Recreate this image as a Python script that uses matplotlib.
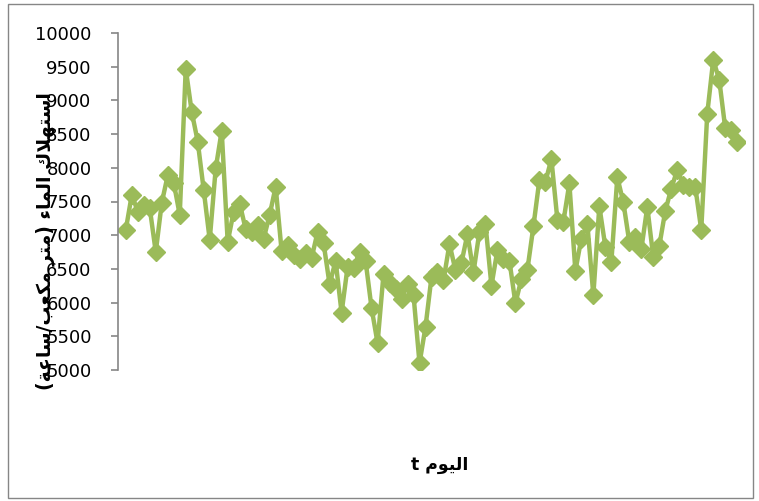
import numpy as np
import matplotlib
matplotlib.use('Agg')
import matplotlib.pyplot as plt
from matplotlib.patches import Rectangle

# hourly water consumption per day
consumption = [
    7080, 7600, 7350, 7450, 7400, 6750, 7480, 7890, 7780, 7300,
    9470, 8830, 8390, 7670, 6930, 7990, 8550, 6900, 7350, 7470,
    7090, 7050, 7150, 6950, 7300, 7720, 6760, 6850, 6700, 6640,
    6730, 6660, 7050, 6880, 6270, 6620, 5850, 6530, 6520, 6750,
    6620, 5920, 5400, 6430, 6290, 6200, 6050, 6280, 6110, 5100,
    5640, 6380, 6460, 6330, 6870, 6480, 6590, 7020, 6450, 7050,
    7170, 6250, 6780, 6650, 6620, 5990, 6350, 6490, 7130, 7820,
    7790, 8130, 7230, 7200, 7770, 6470, 6950, 7170, 6110, 7430,
    6830, 6600, 7860, 7490, 6900, 6980, 6790, 7420, 6670, 6840,
    7360, 7690, 7970, 7750, 7720, 7720, 7080, 8800, 9600, 9310,
    8590, 8560, 8390,
]
days = np.arange(len(consumption))
y_ticks = list(range(5000, 10001, 500))

x_title = 'اليوم t'
y_title = 'استهلاك الماء (متر مكعب/ساعة)'

# contextual forms: isolated, final, initial, medial
FORMS = {
    'ا': ('\ufe8d', '\ufe8e', None, None),
    'ب': ('\ufe8f', '\ufe90', '\ufe91', '\ufe92'),
    'ة': ('\ufe93', '\ufe94', None, None),
    'ت': ('\ufe95', '\ufe96', '\ufe97', '\ufe98'),
    'ر': ('\ufead', '\ufeae', None, None),
    'س': ('\ufeb1', '\ufeb2', '\ufeb3', '\ufeb4'),
    'ع': ('\ufec9', '\ufeca', '\ufecb', '\ufecc'),
    'ك': ('\ufed9', '\ufeda', '\ufedb', '\ufedc'),
    'ل': ('\ufedd', '\ufede', '\ufedf', '\ufee0'),
    'م': ('\ufee1', '\ufee2', '\ufee3', '\ufee4'),
    'ه': ('\ufee9', '\ufeea', '\ufeeb', '\ufeec'),
    'و': ('\ufeed', '\ufeee', None, None),
    'ي': ('\ufef1', '\ufef2', '\ufef3', '\ufef4'),
    'ء': ('\ufe80', None, None, None),
}
MIRROR = {'(': ')', ')': '('}


def joins_next(c):
    return c in FORMS and FORMS[c][2] is not None


def joins_prev(c):
    return c == 'LA' or (c in FORMS and FORMS[c][1] is not None)


def rtl(text):
    # shape the letters, then lay them out right to left
    chars = []
    i = 0
    while i < len(text):
        if text[i] == 'ل' and text[i + 1:i + 2] == 'ا':
            chars.append('LA')
            i += 2
        else:
            chars.append(text[i])
            i += 1
    out = []
    for k, c in enumerate(chars):
        prev = chars[k - 1] if k > 0 else ''
        nxt = chars[k + 1] if k + 1 < len(chars) else ''
        a = joins_next(prev) and joins_prev(c)
        b = c != 'LA' and joins_next(c) and joins_prev(nxt)
        if c == 'LA':
            out.append('\ufefc' if a else '\ufefb')
        elif c in FORMS:
            iso, fin, ini, med = FORMS[c]
            out.append(med if a and b else fin if a else ini if b else iso)
        else:
            out.append(MIRROR.get(c, c))
    return ''.join(reversed(out))


green = '#9bbb59'
grey = '#868686'

fig = plt.figure(figsize=(7.59, 5.01), dpi=100)
ax = fig.add_axes([118 / 759, 1 - 370 / 501, (745 - 118) / 759, (370 - 33) / 501])

ax.plot(days, consumption, color=green, lw=3.2, marker='D', ms=9,
        markeredgecolor=green, solid_joinstyle='round')

ax.set_ylim(5000, 10000)
ax.set_xlim(-1.3, len(consumption) - 1 + 1.3)
ax.set_yticks(y_ticks)
ax.set_xticks([])
for side in ['top', 'right', 'bottom']:
    ax.spines[side].set_visible(False)
ax.spines['left'].set_color(grey)
ax.spines['left'].set_linewidth(1.2)
ax.tick_params(axis='y', direction='out', length=5, width=1.2, color=grey,
               labelsize=13, pad=14, labelcolor='black')

fig.text(45 / 759, 1 - 241 / 501, rtl(y_title), rotation=90, ha='center',
         va='center', fontsize=13.5, fontweight='bold', family=['DejaVu Sans'])
fig.text(440 / 759, 1 - 465 / 501, rtl(x_title), ha='center', va='center',
         fontsize=12.5, fontweight='bold', family=['DejaVu Sans'])

# chart area frame
fig.patches.append(Rectangle((8 / 759, 3 / 501), 745 / 759, 494 / 501,
                             transform=fig.transFigure, fill=False,
                             edgecolor=grey, lw=1))

fig.savefig('out.png', dpi=100)
